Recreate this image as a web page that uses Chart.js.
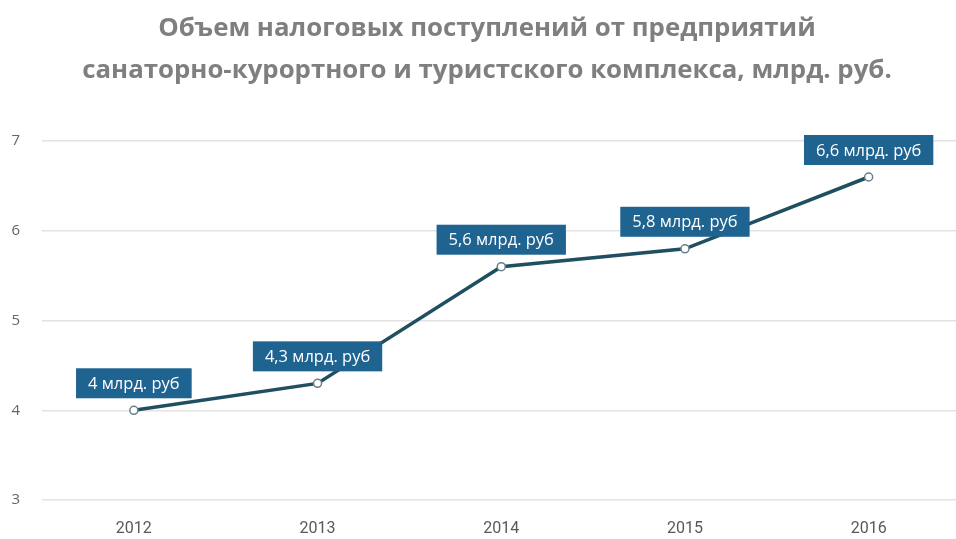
<!DOCTYPE html>
<html>
<head>
<meta charset="utf-8">
<script src="https://cdn.jsdelivr.net/npm/chart.js@4"></script>
<style>
  html, body { margin: 0; padding: 0; background: #fff; overflow: hidden; }
  #wrap { width: 966px; height: 539px; }
</style>
</head>
<body>
<div id="wrap"><canvas id="taxChart"></canvas></div>
<script>
// Data
const years = ['2012', '2013', '2014', '2015', '2016'];
const taxValues = [4, 4.3, 5.6, 5.8, 6.6];
const valueLabels = ['4 млрд. руб', '4,3 млрд. руб', '5,6 млрд. руб', '5,8 млрд. руб', '6,6 млрд. руб'];
const yTicks = [3, 4, 5, 6, 7];

// Boxed value labels above each point
const boxLabels = {
    id: 'boxLabels',
    afterDatasetsDraw(chart) {
        const ctx = chart.ctx;
        const meta = chart.getDatasetMeta(0);
        ctx.save();
        ctx.font = '16.5px "Open Sans", sans-serif';
        ctx.textAlign = 'center';
        ctx.textBaseline = 'middle';
        meta.data.forEach((pt, i) => {
            const text = valueLabels[i];
            const w = ctx.measureText(text).width + 24;
            const h = 30;
            const bottom = pt.y - 12;
            ctx.fillStyle = '#1f6391';
            ctx.fillRect(pt.x - w / 2, bottom - h, w, h);
            ctx.fillStyle = '#ffffff';
            ctx.fillText(text, pt.x, bottom - h / 2 + 1);
        });
        ctx.restore();
    }
};

const chartConfig = {
    type: 'line',
    data: {
        labels: years,
        datasets: [{
            data: taxValues,
            borderColor: '#1f4f60',
            borderWidth: 3.5,
            pointRadius: 4,
            pointBorderWidth: 1.5,
            pointBackgroundColor: '#ffffff',
            pointBorderColor: '#6b7f88',
            tension: 0
        }]
    },
    options: {
        responsive: true,
        maintainAspectRatio: false,
        animation: false,
        layout: {
            padding: { top: 8, left: 8, right: 0, bottom: 4 }
        },
        plugins: {
            legend: { display: false },
            tooltip: { enabled: false },
            title: {
                display: true,
                text: ['Объем налоговых поступлений от предприятий',
                       'санаторно-курортного и туристского комплекса, млрд. руб.'],
                color: '#7f7f7f',
                font: { family: '"Open Sans", sans-serif', size: 25.8, weight: 'bold', lineHeight: 1.63 },
                padding: { top: 0, bottom: 49 },
                align: 'center'
            }
        },
        scales: {
            x: {
                offset: true,
                afterFit: scale => { scale.height = 35; },
                grid: { display: false },
                border: { display: false },
                ticks: {
                    color: '#595959',
                    font: { family: '"Liberation Sans Narrow", "Roboto", sans-serif', size: 16 },
                    padding: 11
                }
            },
            y: {
                min: 3,
                max: 7,
                afterBuildTicks: scale => { scale.ticks = yTicks.map(v => ({ value: v })); },
                afterFit: scale => { scale.width = 34; },
                grid: { color: '#e3e3e3', lineWidth: 1.5, drawTicks: false },
                border: { display: false },
                ticks: {
                    color: '#666666',
                    font: { family: '"Open Sans", sans-serif', size: 15 },
                    padding: 22
                }
            }
        }
    },
    plugins: [boxLabels]
};

new Chart(document.getElementById('taxChart').getContext('2d'), chartConfig);
</script>
</body>
</html>
